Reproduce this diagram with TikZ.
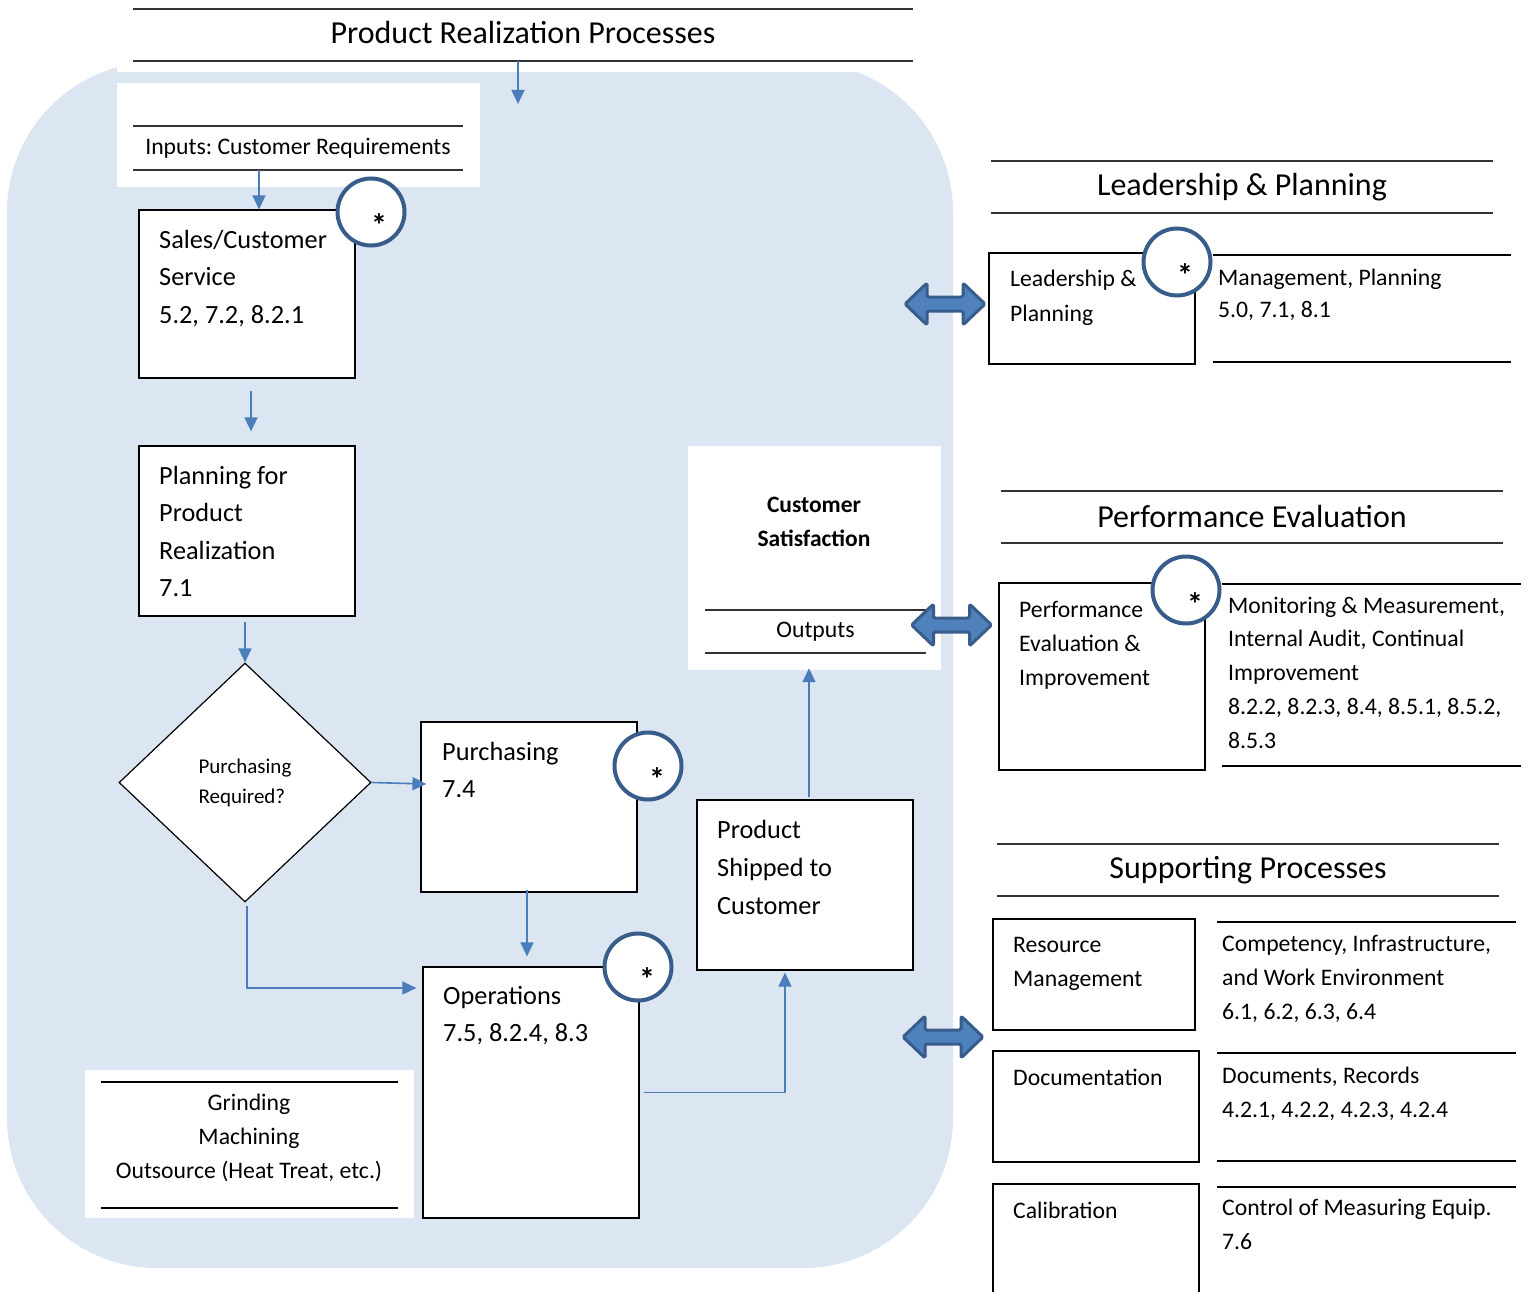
\documentclass[tikz,border=0pt]{standalone}
\usepackage{fontspec}
\setmainfont{Carlito}
\frenchspacing
\usetikzlibrary{calc,shapes.geometric,arrows.meta}
\definecolor{bgblue}{RGB}{220,230,242}
\definecolor{conblue}{RGB}{74,126,187}
\definecolor{cirblue}{RGB}{56,93,138}
\definecolor{arrfill}{RGB}{79,129,189}
\begin{document}
\begin{tikzpicture}[x=1pt,y=-1pt,
  box/.style={draw=black, line width=1.2pt, fill=white, rectangle, inner sep=0pt},
  head/.style={inner sep=0pt, font=\fontsize{32}{38}\selectfont},
  hline/.style={draw=black!80, line width=1.6pt},
  dline/.style={draw=black, line width=2.2pt},
  tbig/.style={inner sep=0pt, align=left, anchor=north west, font=\fontsize{26.3}{37.5}\selectfont},
  tmid/.style={inner sep=0pt, align=left, anchor=north west, font=\fontsize{23.7}{34}\selectfont},
  conn/.style={draw=conblue, line width=1.6pt, -{Triangle[length=14pt,width=13pt]}},
  badge/.style={circle, draw=cirblue, line width=4pt, fill=white, minimum size=67pt, inner sep=0pt},
  startxt/.style={inner sep=0pt, font=\fontsize{32}{36}\selectfont\bfseries},
  dbl/.style={draw=cirblue, fill=arrfill, line width=3pt, rounded corners=1.5pt, line join=round}
]
\useasboundingbox (0,0) rectangle (1528,1292);
% background
\fill[bgblue, rounded corners=150pt] (7,62) rectangle (953,1268);
\fill[white] (117,0) rectangle (913,72);
\fill[white] (117,83) rectangle (480,187);

% title band
\node[head, text depth=5pt, minimum width=780pt, minimum height=52pt] (title) at (523,35) {Product Realization Processes};
\draw[hline] (title.north west) -- (title.north east);
\draw[hline] (title.south west) -- (title.south east);
\coordinate (tipA) at (518,104);

% inputs
\node[inner sep=0pt, minimum width=330pt, minimum height=44pt, font=\fontsize{23.7}{28}\selectfont] (inputs) at (298,148) {Inputs: Customer Requirements};
\draw[hline] (inputs.north west) -- (inputs.north east);
\draw[hline] (inputs.south west) -- (inputs.south east);

% flow boxes
\node[box, minimum width=216pt, minimum height=168pt] (sales) at (247,294) {};
\node[tbig] (salest) at (159,229.6) {Sales/Customer\\Service\\5.2, 7.2, 8.2.1};
\node[box, minimum width=216pt, minimum height=170pt] (planning) at (247,531) {};
\node[tbig] (planningt) at (159,465.6) {Planning for\\Product\\Realization\\7.1};
\node[diamond, draw=black, line width=1.2pt, fill=white, minimum width=252pt, minimum height=239pt, inner sep=0pt, align=left, font=\fontsize{21}{30}\selectfont] (dia) at (245,782.5) {Purchasing\\Required?};
\node[box, minimum width=216pt, minimum height=170pt] (purch) at (529,807) {};
\node[tbig] (purcht) at (442,741.6) {Purchasing\\7.4};
\node[box, minimum width=216pt, minimum height=251pt] (ops) at (531,1092.5) {};
\node[tbig, font=\fontsize{26.3}{37}\selectfont] (opst) at (443,986.6) {Operations\\7.5, 8.2.4, 8.3};
\node[box, minimum width=216pt, minimum height=170pt] (ship) at (805,885) {};
\node[tbig, font=\fontsize{26.3}{38}\selectfont] (shipt) at (717,819.6) {Product\\Shipped to\\Customer};

% customer satisfaction
\node[fill=white, inner sep=0pt, minimum width=253pt, minimum height=224pt] (cs) at (814.5,558) {};
\node[inner sep=0pt, align=center, font=\fontsize{23.5}{34}\selectfont\bfseries] (cst) at (814,522) {Customer\\Satisfaction};
\node[inner sep=0pt, minimum width=221pt, minimum height=43pt, font=\fontsize{23.7}{28}\selectfont] (outputs) at (815.5,631.5) {Outputs};
\draw[hline] (outputs.north west) -- (outputs.north east);
\draw[hline] (outputs.south west) -- (outputs.south east);

% grinding
\node[fill=white, inner sep=0pt, minimum width=329pt, minimum height=148pt] (grind) at (249.5,1144) {};
\draw[dline] (101,1082) -- (398,1082);
\draw[dline] (101,1208) -- (398,1208);
\node[inner sep=0pt, align=center, font=\fontsize{23.7}{34}\selectfont] (grindt) at (249,1138) {Grinding\\Machining\\Outsource (Heat Treat, etc.)};

% connectors
\draw[conn] ($(title.south)+(-5,0)$) -- (tipA);
\draw[conn] ($(inputs.south)+(-39,0)$) -- ($(sales.north)+(12,0)$);
\draw[conn] ($(sales.south)+(4,12)$) -- ($(planning.north)+(4,-14)$);
\draw[conn] ($(planning.south)+(-2,5)$) -- (dia.north);
\draw[conn] (dia.east) -- ($(purch.west)+(6,-23)$);
\draw[conn] ($(purch.south)+(-2,-3)$) -- ($(ops.north)+(-4,-10)$);
\draw[conn] ($(dia.south)+(2,3)$) |- ($(ops.west)+(-6,-104.5)$);
\draw[conn] ($(ops.east)+(4,0)$) -| ($(ship.south)+(-20,2)$);
\draw[conn] ($(ship.north)+(4,-2)$) -- ($(cs.south)+(-5.5,-2)$);

% right: leadership
\node[head, minimum width=502pt, minimum height=52pt] (lph) at (1242,187) {Leadership \& Planning};
\draw[hline] (lph.north west) -- (lph.north east);
\draw[hline] (lph.south west) -- (lph.south east);
\node[box, minimum width=206pt, minimum height=111pt] (lpbox) at (1092,308.5) {};
\node[tmid, font=\fontsize{23.7}{35}\selectfont] (lpt) at (1010,269.6) {Leadership \&\\Planning};
\draw[dline] (1213,255) -- (1511,255);
\draw[dline] (1213,362) -- (1511,362);
\node[tmid, font=\fontsize{23.7}{32}\selectfont] (lpd) at (1218,268.6) {Management, Planning\\5.0, 7.1, 8.1};

% right: performance
\node[head, minimum width=502pt, minimum height=52pt] (peh) at (1252,517) {Performance Evaluation};
\draw[hline] (peh.north west) -- (peh.north east);
\draw[hline] (peh.south west) -- (peh.south east);
\node[box, minimum width=206pt, minimum height=187pt] (pebox) at (1102,676.5) {};
\node[tmid] (pet) at (1019,600.6) {Performance\\Evaluation \&\\Improvement};
\draw[dline] (1222,584) -- (1521,584);
\draw[dline] (1222,766) -- (1521,766);
\node[tmid, font=\fontsize{23.7}{33.75}\selectfont] (ped) at (1228,596.6) {Monitoring \& Measurement,\\Internal Audit, Continual\\Improvement\\8.2.2, 8.2.3, 8.4, 8.5.1, 8.5.2,\\8.5.3};

% right: supporting
\node[head, minimum width=502pt, minimum height=52pt] (sph) at (1248,870) {Supporting Processes};
\draw[hline] (sph.north west) -- (sph.north east);
\draw[hline] (sph.south west) -- (sph.south east);
\node[box, minimum width=202pt, minimum height=111pt] (rmbox) at (1094,974.5) {};
\node[tmid] (rmt) at (1013,936.6) {Resource\\Management};
\draw[dline] (1217,922) -- (1516,922);
\node[tmid] (rmd) at (1222,934.6) {Competency, Infrastructure,\\and Work Environment\\6.1, 6.2, 6.3, 6.4};
\node[box, minimum width=206pt, minimum height=111pt] (docbox) at (1096,1106.5) {};
\node[tmid] (doct) at (1013,1068.6) {Documentation};
\draw[dline] (1217,1053) -- (1516,1053);
\draw[dline] (1217,1161) -- (1516,1161);
\node[tmid] (docd) at (1222,1066.6) {Documents, Records\\4.2.1, 4.2.2, 4.2.3, 4.2.4};
\node[box, minimum width=206pt, minimum height=116pt] (calbox) at (1096,1242) {};
\node[tmid] (calt) at (1013,1201.6) {Calibration};
\draw[dline] (1217,1187) -- (1516,1187);
\node[tmid] (cald) at (1222,1198.6) {Control of Measuring Equip.\\7.6};

% badges
\node[badge] (c1) at (371,212) {};
\node[startxt] (s1) at ($(c1)+(8,13)$) {*};
\node[badge] (c2) at (648,766) {};
\node[startxt] (s2) at ($(c2)+(9,13)$) {*};
\node[badge] (c3) at (638,967) {};
\node[startxt] (s3) at ($(c3)+(9,12)$) {*};
\node[badge] (c4) at (1177,262) {};
\node[startxt] (s4) at ($(c4)+(8,13)$) {*};
\node[badge] (c5) at (1186,590) {};
\node[startxt] (s5) at ($(c5)+(9,14)$) {*};

% double block arrows
\foreach \cx/\cy/\nm in {945/304/a1, 951.5/625/a2, 943/1037/a3}{
  \coordinate (\nm) at (\cx,\cy);
  \draw[dbl] ($(\nm)+(-40,0)$) -- ($(\nm)+(-18,-21)$) -- ($(\nm)+(-18,-7)$) -- ($(\nm)+(18,-7)$) -- ($(\nm)+(18,-21)$) -- ($(\nm)+(40,0)$) -- ($(\nm)+(18,21)$) -- ($(\nm)+(18,7)$) -- ($(\nm)+(-18,7)$) -- ($(\nm)+(-18,21)$) -- cycle;
}
\end{tikzpicture}
\end{document}
